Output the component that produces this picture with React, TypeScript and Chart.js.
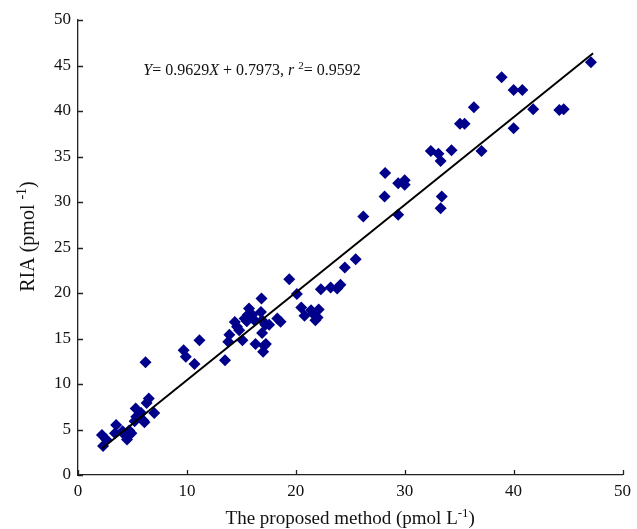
import React, { useEffect, useRef } from 'react';
import { Chart, registerables } from 'chart.js';

Chart.register(...registerables);

// Measured values (proposed method, RIA)
const methodValues = [
  2.2, 2.3, 2.6, 3.4, 3.5, 4.1, 4.3, 4.5, 4.7, 4.9, 5.2, 5.35, 5.3, 5.8, 6.0, 6.1, 6.3, 6.5, 7.0, 6.2,
  9.7, 9.9, 10.7, 11.15, 13.5, 13.8, 13.9, 14.4, 14.8, 15.1, 15.3, 15.6, 15.7, 16.0, 16.2, 16.3, 16.85, 16.8,
  16.9, 17.2, 17.55, 16.9, 17.1, 17.0, 17.25, 18.3, 18.6, 19.4, 20.1, 20.5, 20.8, 21.4, 21.6, 22.0, 22.1,
  22.3, 21.8, 23.2, 23.8, 24.1, 24.5, 25.5, 14.6, 15.5,
  26.2, 28.15, 28.2, 29.4, 29.4, 30.0, 30.0, 32.4, 33.1, 33.3, 33.4, 33.3, 34.3, 35.07, 35.5, 36.35, 37.05,
  38.9, 40.0, 40.8, 40.0, 41.8, 44.2, 44.6, 47.1,
];
const riaValues = [
  4.4, 3.2, 3.9, 4.6, 5.5, 4.8, 4.4, 3.9, 4.9, 4.6, 5.9, 6.4, 7.3, 6.8, 6.0, 5.8, 7.9, 8.4, 6.8, 12.4,
  13.7, 13.0, 12.2, 14.8, 12.6, 14.65, 15.4, 16.8, 15.9, 14.8, 17.2, 17.6, 18.3, 17.6, 17.0, 14.4, 19.4, 17.9,
  17.0, 16.5, 16.5, 15.6, 14.2, 13.55, 14.4, 17.2, 16.85, 21.5, 19.9, 18.4, 17.5, 18.1, 17.7, 17.3, 18.2,
  20.4, 17.0, 20.6, 20.5, 20.9, 22.8, 23.7, 16.3, 16.9,
  28.4, 30.6, 33.2, 28.6, 32.05, 32.4, 31.9, 35.6, 35.3, 34.5, 30.6, 29.3, 35.7, 38.6, 38.6, 40.4, 35.6,
  43.7, 42.3, 42.3, 38.1, 40.2, 40.1, 40.2, 45.35,
];

const xTickValues = [0, 10, 20, 30, 40, 50];
const yTickValues = [0, 5, 10, 15, 20, 25, 30, 35, 40, 45, 50];

const slope = 0.9629;
const intercept = 0.7973;
const rSquared = 0.9592;
const fitRange = [2.2, 47.3];

const xTitle = [
  { t: 'The proposed method (pmol L' },
  { t: '-1', sup: true },
  { t: ')' },
];
const yTitle = [
  { t: 'RIA (pmol ' },
  { t: '-1', sup: true },
  { t: ')' },
];
const equation = [
  { t: 'Y', it: true },
  { t: '= 0.9629' },
  { t: 'X', it: true },
  { t: ' + 0.7973, ' },
  { t: 'r', it: true },
  { t: ' ' },
  { t: '2', sup: true },
  { t: '= ' + rSquared.toFixed(4) },
];

const SERIF = '"Times New Roman", "Liberation Serif", serif';

type Part = { t: string; it?: boolean; sup?: boolean };

function drawRich(ctx: CanvasRenderingContext2D, parts: Part[], x: number, y: number, size: number, align: 'left' | 'center') {
  const fontFor = (p: Part) => `${p.it ? 'italic ' : ''}${p.sup ? Math.round(size * 0.68) : size}px ${SERIF}`;
  let total = 0;
  for (const p of parts) {
    ctx.font = fontFor(p);
    total += ctx.measureText(p.t).width;
  }
  let cx = align === 'center' ? x - total / 2 : x;
  ctx.textAlign = 'left';
  ctx.textBaseline = 'alphabetic';
  for (const p of parts) {
    ctx.font = fontFor(p);
    ctx.fillText(p.t, cx, p.sup ? y - size * 0.38 : y);
    cx += ctx.measureText(p.t).width;
  }
}

const decorPlugin = {
  id: 'decor',
  afterDraw(chart: any) {
    const ctx: CanvasRenderingContext2D = chart.ctx;
    const xs = chart.scales.x;
    const ys = chart.scales.y;
    const area = chart.chartArea;
    ctx.save();
    ctx.strokeStyle = '#222';
    ctx.lineWidth = 1.3;
    ctx.beginPath();
    for (const v of xTickValues) {
      const px = Math.round(xs.getPixelForValue(v)) + 0.5;
      ctx.moveTo(px, area.bottom);
      ctx.lineTo(px, area.bottom - 5);
    }
    for (const v of yTickValues) {
      const py = Math.round(ys.getPixelForValue(v)) + 0.5;
      ctx.moveTo(area.left, py);
      ctx.lineTo(area.left + 5, py);
    }
    ctx.stroke();

    ctx.fillStyle = '#111';
    drawRich(ctx, equation, xs.getPixelForValue(6.0), ys.getPixelForValue(44.0), 16, 'left');
    drawRich(ctx, xTitle, (area.left + area.right) / 2, 524, 19, 'center');
    ctx.translate(34, (area.top + area.bottom) / 2 - 11);
    ctx.rotate(-Math.PI / 2);
    drawRich(ctx, yTitle, 0, 0, 20, 'center');
    ctx.restore();
  },
};

export default function App() {
  const canvasRef = useRef<HTMLCanvasElement | null>(null);

  useEffect(() => {
    if (!canvasRef.current) return;
    const points = methodValues.map((x, i) => ({ x, y: riaValues[i] }));
    const fitLine = fitRange.map((x) => ({ x, y: slope * x + intercept }));
    const chart = new Chart(canvasRef.current, {
      type: 'scatter',
      data: {
        datasets: [
          {
            type: 'line',
            label: 'fit',
            data: fitLine,
            borderColor: '#000',
            borderWidth: 2,
            pointRadius: 0,
            showLine: true,
            fill: false,
            order: 0,
          } as any,
          {
            label: 'samples',
            data: points,
            pointStyle: 'rectRot',
            pointRadius: 6,
            backgroundColor: '#00008B',
            borderColor: '#00008B',
            borderWidth: 0,
            order: 1,
          },
        ],
      },
      options: {
        animation: false,
        responsive: false,
        maintainAspectRatio: false,
        layout: { padding: { left: 0, right: 12, top: 20, bottom: 0 } },
        plugins: { legend: { display: false }, tooltip: { enabled: false } },
        scales: {
          x: {
            type: 'linear',
            min: 0,
            max: 50,
            afterFit: (s: any) => { s.height = 54; },
            afterBuildTicks: (s: any) => { s.ticks = xTickValues.map((v) => ({ value: v })); },
            grid: { display: false, drawTicks: false },
            border: { display: true, color: '#222', width: 1.3 },
            ticks: { padding: 6, color: '#111', font: { family: SERIF, size: 17 }, maxRotation: 0 },
          },
          y: {
            type: 'linear',
            min: 0,
            max: 50,
            afterFit: (s: any) => { s.width = 78; },
            afterBuildTicks: (s: any) => { s.ticks = yTickValues.map((v) => ({ value: v })); },
            grid: { display: false, drawTicks: false },
            border: { display: true, color: '#222', width: 1.3 },
            ticks: { padding: 7, color: '#111', font: { family: SERIF, size: 17 } },
          },
        },
      },
      plugins: [decorPlugin],
    });
    return () => chart.destroy();
  }, []);

  return (
    <div style={{ position: 'fixed', left: 0, top: 0, width: 637, height: 529, background: '#fff' }}>
      <canvas ref={canvasRef} width={637} height={529} style={{ width: 637, height: 529 }} />
    </div>
  );
}
